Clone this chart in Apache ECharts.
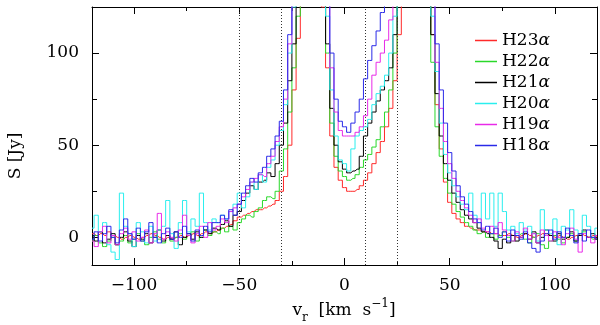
<!DOCTYPE html>
<html>
<head>
<meta charset="utf-8">
<script src="https://cdn.jsdelivr.net/npm/echarts@6/dist/echarts.min.js"></script>
<style>html,body{margin:0;padding:0;background:#fff}#c{width:600px;height:325px}</style>
</head>
<body>
<div id="c"></div>
<script>
// Channel grid (km/s)
const vStart = -120, vStep = 2, nChan = 121;
const velocity = Array.from({length: nChan}, (_, i) => vStart + vStep * i);

const seriesNames = ['H23α', 'H22α', 'H21α', 'H20α', 'H19α', 'H18α'];

const H23 = [2,1,2,1,3,1,0,-1,0,1,0,-1,0,1,2,1,0,-1,0,-1,0,1,0,1,2,1,2,3,2,3,
  4,5,6,7,9,11,12,13,14,15,15,16,17,18,20,25,33,50,80,108,
  140,180,200,190,160,125,
  92,55,38,31,27,25,25,26,28,31,35,40,46,52,60,70,85,110,
  150,200,230,240,220,180,140,
  110,72,48,30,19,13,10,8,6,
  5,4,4,3,3,2,2,1,1,2,1,0,1,2,1,0,1,2,2,1,0,1,0,-1,0,1,2,1,0,1,0];

const H22 = [-2,1,-3,-5,-2,0,-4,-2,1,-3,-1,2,-2,-4,0,3,-1,-3,1,-2,0,2,-1,1,3,-2,0,4,1,3,
  2,5,3,6,4,8,10,12,11,14,16,20,22,21,25,36,48,68,92,120,
  160,200,220,210,180,140,
  100,62,44,36,33,31,32,34,38,42,45,49,53,60,68,80,100,130,
  170,220,250,250,230,190,150,
  95,60,44,32,24,18,14,11,8,
  6,4,2,3,0,2,-1,1,3,0,-2,1,2,-1,-3,0,2,-4,-6,-2,1,-1,-3,0,2,-2,1,3,0,-1,1];

const H21 = [1,-2,3,-3,-1,2,-4,0,3,-2,-5,1,-1,2,-3,0,4,-2,1,-1,3,-4,0,2,-1,3,0,4,2,5,
  4,7,9,6,12,14,20,24,28,26,30,31,35,33,40,50,62,85,105,130,
  170,210,230,220,190,150,
  105,70,50,41,37,35,36,37,44,55,62,68,74,80,85,92,110,140,
  180,230,260,260,240,200,160,
  110,78,55,40,31,24,19,15,12,
  10,8,5,3,2,0,-2,-6,-1,-3,1,-2,0,2,-1,3,-3,0,4,1,-2,2,-1,0,3,-2,1,4,0,2,-1];

const H20 = [5,12,3,8,-4,-8,-12,24,6,2,-5,8,3,-3,6,-2,4,6,20,2,-6,8,20,3,10,6,24,8,4,10,
  8,12,10,14,18,24,16,22,30,26,34,30,38,42,50,58,72,100,125,150,
  190,230,250,240,210,170,
  120,80,55,42,40,36,48,55,58,60,64,72,78,82,88,100,120,150,
  190,240,270,270,250,210,170,
  120,90,62,45,35,28,22,18,15,
  24,12,8,24,10,24,6,24,14,4,6,2,8,4,6,2,-2,15,4,2,10,-4,6,4,15,4,2,12,6,0,5];

const H19 = [-2,-5,3,6,-3,1,-4,2,5,-1,3,-2,0,4,-3,2,13,-1,3,0,-2,4,12,1,-3,2,6,0,8,4,
  6,10,8,14,16,18,22,26,30,32,34,33,40,44,52,60,75,105,130,160,
  200,240,260,250,220,180,
  130,92,68,58,55,55,55,57,60,66,75,88,95,100,107,118,140,170,
  210,250,280,280,260,220,180,
  130,95,70,52,40,32,25,20,16,
  12,8,10,5,3,6,2,8,4,1,-2,3,0,5,-1,2,-3,4,1,-2,3,0,-4,2,5,-1,-8,2,0,-3,1];

const H18 = [-1,3,-2,2,6,0,-3,4,10,2,-1,5,-2,3,8,0,-3,2,5,-1,3,0,6,2,-2,4,1,6,3,8,
  8,12,10,15,12,18,24,28,32,30,35,38,44,48,55,63,80,110,140,170,
  210,250,270,260,230,190,
  140,100,75,63,60,57,62,68,75,86,96,104,112,122,135,160,190,220,
  250,280,290,290,270,230,190,
  140,105,80,62,46,36,28,22,18,
  14,10,8,4,6,2,5,0,3,-2,4,1,-1,3,-3,-6,-8,-2,2,4,-1,3,0,5,1,-3,2,-2,4,0,-1];

const seriesValues = [H23, H22, H21, H20, H19, H18];
const seriesColors = ['#ff2a2a', '#2ad82a', '#000000', '#2aeeee', '#e82ae8', '#2a2ae8'];

const dottedLines = [-50, -30, 10, 25];
const xLabelValues = [-100, -50, 0, 50, 100];
const xMinorTicks = [-75, -25, 25, 75];
const yLabelValues = [0, 50, 100];
const yMinorTicks = [25, 75];

const FONT = 'DejaVu Serif';
const fmt = v => String(v).replace('-', '\u2212');

function xAxisDef(pos, major, labels) {
  return {
    type: 'value', min: -120, max: 120, position: pos,
    axisLine: {show: major, onZero: false, lineStyle: {color: '#000', width: 1}},
    axisTick: {show: true, inside: true, length: major ? 7 : 4, customValues: major ? xLabelValues : xMinorTicks, lineStyle: {color: '#000', width: 1}},
    axisLabel: labels ? {show: true, customValues: xLabelValues, formatter: fmt, margin: 12, fontFamily: FONT, fontSize: 17, color: '#000'} : {show: false},
    splitLine: {show: false}
  };
}
function yAxisDef(pos, major, labels) {
  return {
    type: 'value', min: -15, max: 125, position: pos,
    axisLine: {show: major, onZero: false, lineStyle: {color: '#000', width: 1}},
    axisTick: {show: true, inside: true, length: major ? 7 : 5, customValues: major ? yLabelValues : yMinorTicks, lineStyle: {color: '#000', width: 1}},
    axisLabel: labels ? {show: true, customValues: yLabelValues, formatter: fmt, margin: 13, fontFamily: FONT, fontSize: 17, color: '#000'} : {show: false},
    splitLine: {show: false}
  };
}

const series = seriesNames.map((name, k) => {
  const s = {
    name: name, type: 'line', step: 'middle', symbol: 'none', showSymbol: false,
    xAxisIndex: 0, yAxisIndex: 0,
    data: velocity.map((v, i) => [v, seriesValues[k][i]]),
    lineStyle: {color: seriesColors[k], width: 1},
    itemStyle: {color: seriesColors[k]},
    clip: true, animation: false, z: 2 + k
  };
  if (k === 0) {
    s.markLine = {
      silent: true, symbol: ['none', 'none'], animation: false,
      label: {show: false},
      lineStyle: {type: [1, 2], color: '#333', width: 1},
      data: dottedLines.map(v => ({xAxis: v}))
    };
  }
  return s;
});

const chart = echarts.init(document.getElementById('c'), null, {renderer: 'canvas'});
chart.setOption({
  animation: false,
  backgroundColor: '#fff',
  grid: {left: 92, right: 3, top: 7, bottom: 60, containLabel: false},
  xAxis: [xAxisDef('bottom', true, true), xAxisDef('bottom', false, false), xAxisDef('top', true, false), xAxisDef('top', false, false)],
  yAxis: [yAxisDef('left', true, true), yAxisDef('left', false, false), yAxisDef('right', true, false), yAxisDef('right', false, false)],
  legend: {
    show: true, orient: 'vertical', left: 470, top: 27, itemGap: 4,
    itemWidth: 22, itemHeight: 1.5, icon: 'rect',
    data: seriesNames,
    formatter: name => '{n|' + name.replace('α', '') + '}{g|α}',
    textStyle: {
      fontFamily: FONT, fontSize: 17, color: '#000', padding: [0, 0, 0, 0],
      rich: {n: {fontFamily: FONT, fontSize: 17, color: '#000'}, g: {fontFamily: FONT, fontSize: 17, fontStyle: 'italic', color: '#000'}}
    }
  },
  graphic: [
    {type: 'text', x: 16, y: 156, rotation: Math.PI / 2,
      style: {text: 'S [Jy]', fontFamily: FONT, fontSize: 17, fill: '#000', align: 'center', verticalAlign: 'middle'}},
    {type: 'text', x: 344, y: 311,
      style: {
        text: '{a|v}{s|r}{a|  [km  s}{p|\u22121}{a|]}',
        align: 'center', verticalAlign: 'middle',
        rich: {
          a: {fontFamily: FONT, fontSize: 17, color: '#000', lineHeight: 26},
          s: {fontFamily: FONT, fontSize: 12, color: '#000', verticalAlign: 'bottom', lineHeight: 12},
          p: {fontFamily: FONT, fontSize: 12, color: '#000', verticalAlign: 'top', lineHeight: 12}
        }
      }}
  ],
  series: series
});
</script>
</body>
</html>
